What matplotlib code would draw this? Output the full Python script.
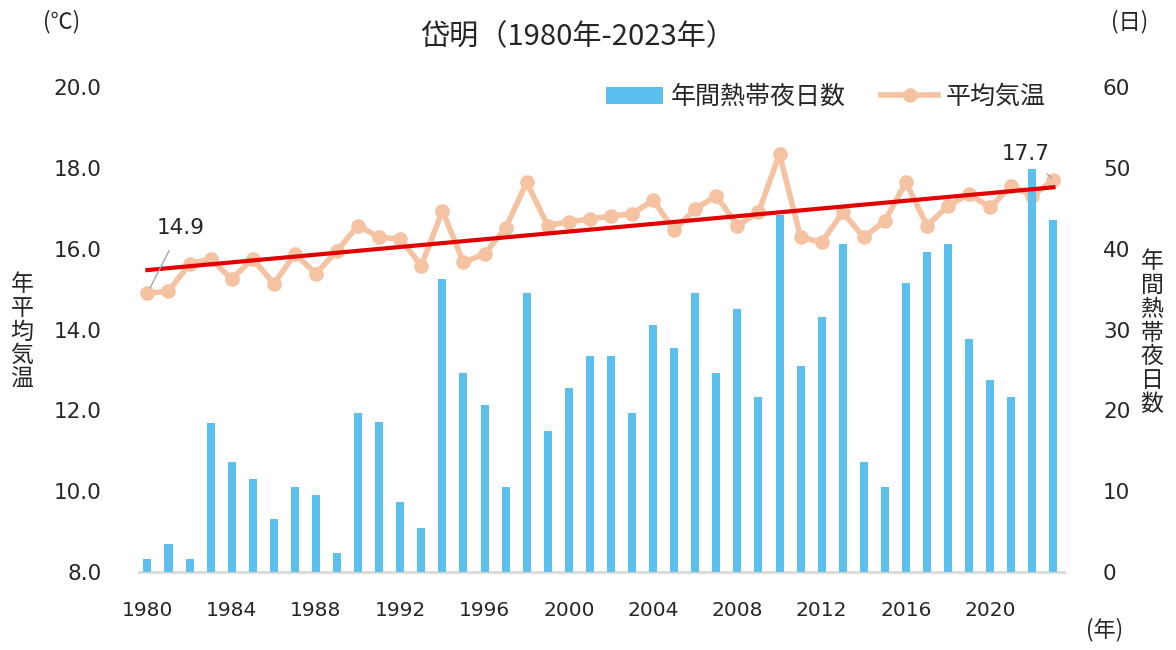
import numpy as np
import matplotlib
matplotlib.use("Agg")
import matplotlib.pyplot as plt
from matplotlib.patches import Patch
from matplotlib.lines import Line2D

years = list(range(1980, 2024))
hot_nights = [1.6, 3.5, 1.6, 18.4, 13.6, 11.5, 6.6, 10.5, 9.5, 2.4,
              19.7, 18.5, 8.6, 5.5, 36.3, 24.6, 20.7, 10.5, 34.5, 17.5,
              22.8, 26.7, 26.7, 19.7, 30.6, 27.7, 34.5, 24.6, 32.5, 21.7,
              44.2, 25.5, 31.5, 40.6, 13.6, 10.5, 35.7, 39.6, 40.6, 28.8,
              23.7, 21.7, 49.8, 43.6]
avg_temp = [14.9, 14.95, 15.62, 15.75, 15.25, 15.75, 15.13, 15.87, 15.38, 15.95,
            16.57, 16.28, 16.24, 15.58, 16.94, 15.66, 15.87, 16.51, 17.64, 16.57,
            16.67, 16.73, 16.81, 16.86, 17.20, 16.46, 16.98, 17.31, 16.57, 16.90,
            18.34, 16.28, 16.16, 16.90, 16.28, 16.69, 17.64, 16.57, 17.06, 17.35,
            17.02, 17.56, 17.31, 17.7]
xtick_years = list(range(1980, 2024, 4))
left_ticks = [8.0, 10.0, 12.0, 14.0, 16.0, 18.0, 20.0]
right_ticks = [0, 10, 20, 30, 40, 50, 60]

title = "岱明（1980年-2023年）"
bar_label = "年間熱帯夜日数"
line_label = "平均気温"

CJK = ["Noto Sans CJK JP", "DejaVu Sans"]
NUM = ["DejaVu Sans"]

bar_color = "#5BC0EE"
line_color = "#F5C2A2"
trend_color = "#E10000"
text_color = "#262626"

fig = plt.figure(figsize=(11.76, 6.5), dpi=100)
ax = fig.add_axes([139/1176, 78/650, (1064-139)/1176, (572-87)/650])
ax2 = ax.twinx()

x = np.array(years, dtype=float)
t = np.array(avg_temp)

# temperature line on left axis
ax.plot(x, t, color=line_color, lw=4, marker="o", ms=9.5, mfc=line_color,
        mec=line_color, zorder=2, solid_joinstyle="round")
ax.set_ylim(8, 20)
ax.set_yticks(left_ticks)
ax.set_yticklabels([f"{v:.1f}" for v in left_ticks], fontsize=15.5,
                   color=text_color, family=NUM)
ax.set_xlim(1979.6, 2023.5)
ax.set_xticks(xtick_years)
ax.set_xticklabels([str(y) for y in xtick_years], fontsize=14.5,
                   color=text_color, family=NUM)
ax.tick_params(axis="both", length=0)
ax.tick_params(axis="y", pad=27)
ax.tick_params(axis="x", pad=21)

# bars on right axis
ax2.bar(x, hot_nights, width=0.38, color=bar_color, zorder=3)
ax2.set_ylim(0, 60)
ax2.set_yticks(right_ticks)
ax2.set_yticklabels([str(v) for v in right_ticks], fontsize=15.5,
                    color=text_color, family=NUM)
ax2.tick_params(axis="y", length=0, pad=28)

# trend line (linear fit of temperature), drawn above bars
coef = np.polyfit(x, t, 1)
xt = np.array([x[0], x[-1]])
ax2.plot(xt, np.polyval(coef, xt), color=trend_color, lw=3,
         transform=ax.transData, zorder=5)

for a in (ax, ax2):
    for s in a.spines.values():
        s.set_visible(False)
ax2.spines["bottom"].set_visible(True)
ax2.spines["bottom"].set_color("#D9D9D9")
ax2.spines["bottom"].set_linewidth(2)

# data labels
ax2.annotate("14.9", xy=(x[0], t[0]), xycoords=ax.transData,
             xytext=(24, 47), textcoords="offset points", ha="center", va="center",
             fontsize=15.5, color=text_color, family=NUM,
             arrowprops=dict(arrowstyle="-", color="#A6A6A6", lw=1,
                             shrinkA=8, shrinkB=4), zorder=6)
ax2.annotate("17.7", xy=(x[-1], t[-1]), xycoords=ax.transData,
             xytext=(-20, 19), textcoords="offset points", ha="center", va="center",
             fontsize=15.5, color=text_color, family=NUM,
             arrowprops=dict(arrowstyle="-", color="#A6A6A6", lw=1,
                             shrinkA=8, shrinkB=2), zorder=6)

# title and unit texts
fig.text(578/1176, 1 - 37/650, title, ha="center", va="center", fontsize=21,
         color=text_color, family=CJK)
fig.text(62/1176, 1 - 22/650, "(℃)", ha="center", va="center", fontsize=16,
         color=text_color, family=CJK)
fig.text(1130/1176, 1 - 22/650, "(日)", ha="center", va="center", fontsize=16,
         color=text_color, family=CJK)
fig.text(1105/1176, 1 - 630/650, "(年)", ha="center", va="center", fontsize=16,
         color=text_color, family=CJK)

# vertical stacked axis titles
fig.text(22/1176, 1 - 332/650, "\n".join("年平均気温"), ha="center", va="center",
         fontsize=16.5, color=text_color, family=CJK, linespacing=1.04)
fig.text(1152/1176, 1 - 333/650, "\n".join("年間熱帯夜日数"), ha="center",
         va="center", fontsize=16.5, color=text_color, family=CJK, linespacing=1.04)

# legend
handles = [Patch(facecolor=bar_color, edgecolor="none"),
           Line2D([0], [0], color=line_color, lw=4, marker="o", ms=9.5)]
leg = fig.legend(handles, [bar_label, line_label], loc="center",
                 bbox_to_anchor=(826/1176, 1 - 97/650), ncol=2, frameon=False,
                 prop={"family": CJK, "size": 18}, handlelength=2.3,
                 handletextpad=0.3, columnspacing=1.4)
for txt in leg.get_texts():
    txt.set_color(text_color)

fig.savefig("out.png", dpi=100)
